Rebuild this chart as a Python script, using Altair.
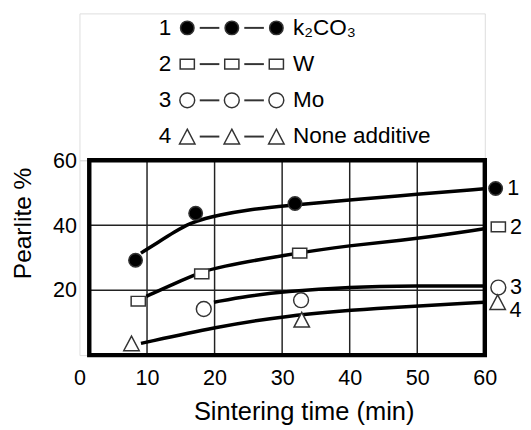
import altair as alt
import pandas as pd

FONT = "Liberation Sans"

# ---- data -----------------------------------------------------------------
series_ids = [1, 2, 3, 4]
series_names = ["k\u2082CO\u2083", "W", "Mo", "None additive"]

# measured points (markers)
time_k2co3 = [8.3, 17.2, 31.9, 61.6]
pearlite_k2co3 = [29.2, 43.7, 46.7, 51.3]
time_w = [8.7, 18.1, 32.6, 62.0]
pearlite_w = [16.6, 25.0, 31.4, 39.5]
time_mo = [18.4, 32.8, 62.0]
pearlite_mo = [14.2, 16.9, 20.8]
time_none = [7.7, 32.9, 61.9]
pearlite_none = [3.6, 10.9, 16.3]

# fitted curves as drawn in the figure
curve_time_k2co3 = [9.1, 11.6, 14.1, 16.4, 18.8, 20.3, 25.0, 30.3, 39.9, 50.0, 59.9]
curve_pearlite_k2co3 = [31.4, 34.7, 38.0, 40.7, 42.2, 43.0, 44.8, 46.0, 47.8, 49.5, 51.2]
curve_time_w = [9.9, 14.0, 18.1, 20.3, 30.3, 39.9, 50.0, 59.9]
curve_pearlite_w = [18.1, 22.0, 25.6, 27.0, 30.8, 33.8, 35.8, 38.9]
curve_time_mo = [19.9, 25.0, 30.3, 39.9, 50.0, 60.0]
curve_pearlite_mo = [16.3, 18.2, 19.6, 21.0, 21.3, 21.3]
curve_time_none = [9.1, 20.3, 30.3, 43.5, 59.9]
curve_pearlite_none = [3.6, 8.7, 12.1, 14.4, 16.3]

x_ticks = [0, 10, 20, 30, 40, 50, 60]
y_ticks = [20, 40, 60]
x_grid = [10, 20, 30, 40, 50]
y_grid = [20, 40]
frame_x = [1.45, 60]
frame_y = [0, 60]
legend_slots = [1, 2, 3]

# ---- tables ---------------------------------------------------------------
marker_sets = [(time_k2co3, pearlite_k2co3), (time_w, pearlite_w),
               (time_mo, pearlite_mo), (time_none, pearlite_none)]
curve_sets = [(curve_time_k2co3, curve_pearlite_k2co3), (curve_time_w, curve_pearlite_w),
              (curve_time_mo, curve_pearlite_mo), (curve_time_none, curve_pearlite_none)]

markers = pd.DataFrame([
    {"series": s, "time": t, "pearlite": p}
    for s, (ts, ps) in zip(series_ids, marker_sets) for t, p in zip(ts, ps)
])
curves = pd.DataFrame([
    {"series": s, "time": t, "pearlite": p, "order": i}
    for s, (ts, ps) in zip(series_ids, curve_sets) for i, (t, p) in enumerate(zip(ts, ps))
])
ends = pd.DataFrame([
    {"series": s, "label": str(s), "time": ts[-1], "pearlite": ps[-1]}
    for s, (ts, ps) in zip(series_ids, marker_sets)
])
vgrid = pd.DataFrame({"x": x_grid, "y0": frame_y[0], "y1": frame_y[1]})
hgrid = pd.DataFrame({"y": y_grid, "x0": frame_x[0], "x1": frame_x[1]})
frame = pd.DataFrame({"x0": [frame_x[0]], "x1": [frame_x[1]], "y0": [frame_y[0]], "y1": [frame_y[1]]})

legend_rows = pd.DataFrame({"row": series_ids, "number": [str(s) for s in series_ids],
                            "name": series_names, "slot_num": 0.5, "slot_end": legend_slots[-1]})
legend_marks = pd.DataFrame([{"row": s, "series": s, "slot": k} for s in series_ids for k in legend_slots])
legend_dash = pd.DataFrame([{"row": s, "a": k + 0.28, "b": k + 0.72}
                            for s in series_ids for k in legend_slots[:-1]])

# ---- encodings ------------------------------------------------------------
shape_scale = alt.Scale(domain=series_ids,
                        range=["circle", "M-1,-0.68H1V0.68H-1Z", "circle", "M0,-0.95L1,0.95H-1Z"])
fill_scale = alt.Scale(domain=series_ids, range=["black", "white", "white", "white"])
size_scale = alt.Scale(domain=series_ids, range=[190, 250, 185, 330])

xs = alt.Scale(domain=[0, 60], nice=False, zero=False)
ys = alt.Scale(domain=[0, 60], nice=False, zero=False)
x_axis = alt.Axis(values=x_ticks, grid=False, domain=False, ticks=False, tickSize=0,
                  labelFontSize=22, labelPadding=23, labelBaseline="middle", labelFlush=False,
                  labelOverlap=False, labelColor="black",
                  title="Sintering time (min)", titleFontSize=26, titleFontWeight="normal",
                  titleColor="black", titleX=229, titleY=66, titleBaseline="alphabetic",
                  titleAlign="center")
y_axis = alt.Axis(values=y_ticks, grid=False, domain=False, ticks=False, tickSize=0,
                  labelFontSize=22, labelPadding=3, labelColor="black", labelFlush=False,
                  title="Pearlite %", titleFontSize=25, titleFontWeight="normal", titleColor="black",
                  titleAngle=270, titleX=-50, titleY=64, titleBaseline="alphabetic",
                  titleAlign="center")


def X(field):
    return alt.X(field, type="quantitative", scale=xs, axis=x_axis)


def Y(field):
    return alt.Y(field, type="quantitative", scale=ys, axis=y_axis)


vlines = alt.Chart(vgrid).mark_rule(color="#222", strokeWidth=1.5).encode(
    x=X("x"), y=Y("y0"), y2="y1")
hlines = alt.Chart(hgrid).mark_rule(color="#222", strokeWidth=1.5).encode(
    x=X("x0"), x2="x1", y=Y("y"))
box = alt.Chart(frame).mark_rect(fillOpacity=0, stroke="black", strokeWidth=4.5).encode(
    x=X("x0"), x2="x1", y=Y("y0"), y2="y1")
lines = alt.Chart(curves).mark_line(interpolate="basis", color="black", strokeWidth=3.6).encode(
    x=X("time"), y=Y("pearlite"), detail="series:N", order="order:Q")
points = alt.Chart(markers).mark_point(filled=True, opacity=1, stroke="#333", strokeWidth=1.5).encode(
    x=X("time"), y=Y("pearlite"),
    shape=alt.Shape("series:O", scale=shape_scale, legend=None),
    fill=alt.Fill("series:O", scale=fill_scale, legend=None),
    size=alt.Size("series:O", scale=size_scale, legend=None),
)
end_labels_mid = alt.Chart(ends).transform_filter("datum.series < 4").mark_text(
    align="left", dx=12, fontSize=22, color="black").encode(
    x=X("time"), y=Y("pearlite"), text="label:N")
end_labels_low = alt.Chart(ends).transform_filter("datum.series == 4").mark_text(
    align="left", baseline="top", dx=12, dy=-2, fontSize=22, color="black").encode(
    x=X("time"), y=Y("pearlite"), text="label:N")

main = alt.layer(vlines, hlines, box, lines, points, end_labels_mid, end_labels_low).properties(
    width=414, height=199)

# ---- legend panel ---------------------------------------------------------
lx = alt.Scale(domain=[-1.42, 7.68], nice=False, zero=False)
ly = alt.Scale(domain=[0.6, 4.654], nice=False, zero=False, reverse=True)

leg_num = alt.Chart(legend_rows).mark_text(fontSize=23, color="black").encode(
    x=alt.X("slot_num:Q", scale=lx, axis=None), y=alt.Y("row:Q", scale=ly, axis=None), text="number:N")
leg_dash = alt.Chart(legend_dash).mark_rule(color="#333", strokeWidth=2).encode(
    x=alt.X("a:Q", scale=lx, axis=None), x2="b", y=alt.Y("row:Q", scale=ly, axis=None))
leg_pts = alt.Chart(legend_marks).mark_point(filled=True, opacity=1, stroke="#333", strokeWidth=1.5).encode(
    x=alt.X("slot:Q", scale=lx, axis=None), y=alt.Y("row:Q", scale=ly, axis=None),
    shape=alt.Shape("series:O", scale=shape_scale, legend=None),
    fill=alt.Fill("series:O", scale=fill_scale, legend=None),
    size=alt.Size("series:O", scale=size_scale, legend=None),
)
leg_txt = alt.Chart(legend_rows).mark_text(align="left", dx=17, fontSize=23, color="black").encode(
    x=alt.X("slot_end:Q", scale=lx, axis=None), y=alt.Y("row:Q", scale=ly, axis=None), text="name:N")

legend = alt.layer(leg_dash, leg_pts, leg_num, leg_txt).properties(width=414, height=150)

chart = alt.vconcat(legend, main, spacing=0, bounds="flush").properties(
    padding={"left": 2, "top": 0, "right": 0, "bottom": 0}
).configure_view(stroke=None).configure_axis(
    labelFont=FONT, titleFont=FONT
).configure_text(font=FONT).configure(background="white")

chart.save("out.html", embed_options={"renderer": "svg", "actions": False})
